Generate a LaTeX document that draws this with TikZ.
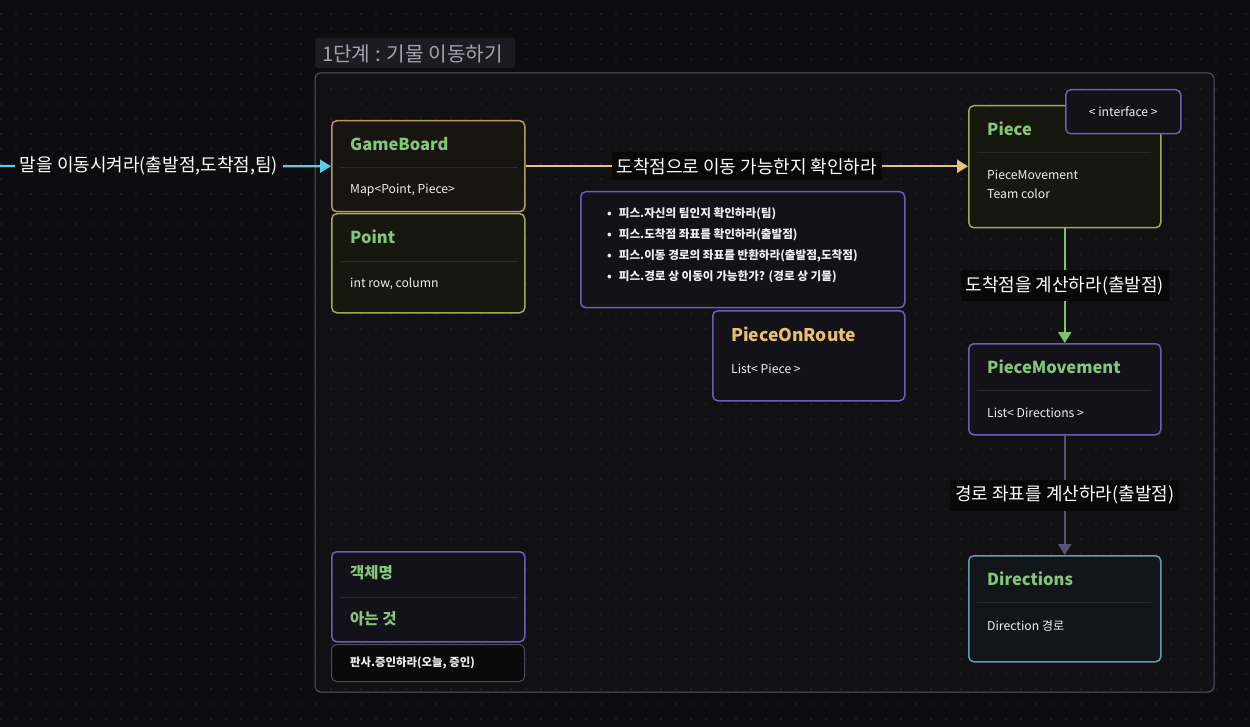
\documentclass[tikz,border=0pt]{standalone}
\usepackage{fontspec}
\setmainfont{Noto Sans CJK KR}
\usetikzlibrary{arrows.meta}
\definecolor{bg}{HTML}{0D0D0F}
\definecolor{dotc}{HTML}{2A2A30}
\definecolor{framec}{HTML}{55566A}
\definecolor{framefill}{HTML}{111114}
\definecolor{tabfill}{HTML}{1B1B21}
\definecolor{tabtext}{HTML}{A2A2B0}
\definecolor{goldb}{HTML}{B39B62}
\definecolor{oliveb}{HTML}{A3A85A}
\definecolor{purpb}{HTML}{6B5FB5}
\definecolor{tealb}{HTML}{5A9FAE}
\definecolor{greyb}{HTML}{4A4A5C}
\definecolor{grn}{HTML}{84C77B}
\definecolor{goldt}{HTML}{E8C170}
\definecolor{goldarr}{HTML}{E9C275}
\definecolor{grnarr}{HTML}{7DC36F}
\definecolor{grayarr}{HTML}{55566E}
\definecolor{cyanarr}{HTML}{5CCBEB}
\definecolor{fillgold}{HTML}{17150F}
\definecolor{fillolive}{HTML}{16170F}
\definecolor{fillpurp}{HTML}{131219}
\definecolor{fillteal}{HTML}{121619}
\definecolor{filldark}{HTML}{0A0A0B}
\definecolor{sepc}{HTML}{2A2A2E}
\definecolor{lblfill}{HTML}{080808}
\definecolor{bodyt}{HTML}{EFEFEF}
\begin{document}
\begin{tikzpicture}[x=1pt,y=-1pt,
  box/.style={draw, line width=1.5pt, rounded corners=5pt, anchor=north west, inner sep=0pt},
  ttl/.style={anchor=west, inner sep=0pt, text=grn, font=\bfseries\fontsize{16.5}{18}\selectfont},
  body/.style={anchor=west, inner sep=0pt, text=bodyt, font=\fontsize{12.2}{14}\selectfont},
  bul/.style={anchor=west, inner sep=0pt, text=bodyt, font=\bfseries\fontsize{11.6}{13}\selectfont},
  sepl/.style={draw=sepc, line width=1pt},
  elbl/.style={fill=lblfill, text=white, inner xsep=5pt, inner ysep=6pt, font=\fontsize{18}{20}\selectfont},
  arr/.style={line width=2.2pt, -{Triangle[length=11pt,width=13pt]}}
]
\useasboundingbox (0,0) rectangle (1250,727);
\fill[bg] (0,0) rectangle (1250,727);
% frame
\draw[draw=framec, fill=framefill, line width=1pt, rounded corners=6pt] (315,73) rectangle (1214,692);
% dots
\foreach \x in {1,16,...,1250} {
  \foreach \y in {14,29,...,727} {
    \fill[dotc] (\x,\y) circle (0.9);
  }
}
% tab
\fill[tabfill, rounded corners=3pt] (315,38) rectangle (515,68);
\node[anchor=west, inner sep=0pt, text=tabtext, font=\fontsize{20.2}{22}\selectfont] (tab) at (322,54) {1단계 : 기물 이동하기};

% GameBoard
\node[box, draw=goldb, fill=fillgold, minimum width=193pt, minimum height=91pt] (gb) at (331,120) {};
\node[ttl] (gbT) at (350,144) {GameBoard};
\draw[sepl] (340,168) -- (518,168);
\node[body] (gbB) at (350,190) {Map<Point, Piece>};

% Point
\node[box, draw=oliveb, fill=fillolive, minimum width=193pt, minimum height=99pt] (pt) at (331,213) {};
\node[ttl] (ptT) at (350,237) {Point};
\draw[sepl] (340,262) -- (518,262);
\node[body] (ptB) at (350,284) {int row, column};

% bullet box
\node[box, draw=purpb, fill=fillpurp, minimum width=324pt, minimum height=116pt] (bb) at (580,191) {};
\node[bul] (b1) at (607,214) {•\hspace{7pt}피스.자신의 팀인지 확인하라(팀)};
\node[bul] (b2) at (607,235) {•\hspace{7pt}피스.도착점 좌표를 확인하라(출발점)};
\node[bul] (b3) at (607,256) {•\hspace{7pt}피스.이동 경로의 좌표를 반환하라(출발점,도착점)};
\node[bul] (b4) at (607,277) {•\hspace{7pt}피스.경로 상 이동이 가능한가? (경로 상 기물)};

% PieceOnRoute
\node[box, draw=purpb, fill=fillpurp, minimum width=192pt, minimum height=90pt] (por) at (712,310) {};
\node[ttl, text=goldt, font=\bfseries\fontsize{17.5}{19}\selectfont] (porT) at (731,334) {PieceOnRoute};
\node[body] (porB) at (731,369) {List< Piece >};

% Piece
\node[box, draw=oliveb, fill=fillolive, minimum width=192pt, minimum height=122pt] (pc) at (968,105) {};
\node[ttl] (pcT) at (987,129) {Piece};
\draw[sepl] (977,153) -- (1151,153);
\node[body] (pcB1) at (987,175) {PieceMovement};
\node[body] (pcB2) at (987,194) {Team color};

% interface
\node[box, draw=purpb, fill=fillpurp, minimum width=115pt, minimum height=44pt] (itf) at (1065,89) {};
\node[inner sep=0pt, text=bodyt, font=\fontsize{12.2}{14}\selectfont] (itfT) at (itf.center) {< interface >};

% PieceMovement
\node[box, draw=purpb, fill=fillpurp, minimum width=192pt, minimum height=91pt] (pm) at (968,343) {};
\node[ttl] (pmT) at (987,367) {PieceMovement};
\draw[sepl] (977,390) -- (1151,390);
\node[body] (pmB) at (987,413) {List< Directions >};

% Directions
\node[box, draw=tealb, fill=fillteal, minimum width=192pt, minimum height=106pt] (dr) at (968,555) {};
\node[ttl] (drT) at (987,579) {Directions};
\draw[sepl] (977,602) -- (1151,602);
\node[body] (drB) at (987,626) {Direction 경로};

% legend
\node[box, draw=purpb, fill=fillpurp, minimum width=193pt, minimum height=90pt] (lg) at (331,551) {};
\node[ttl, font=\bfseries\fontsize{15.5}{17}\selectfont] (lgT) at (350,573) {객체명};
\draw[sepl] (340,597) -- (518,597);
\node[ttl, font=\bfseries\fontsize{15.5}{17}\selectfont] (lgB) at (350,619) {아는 것};
\node[box, draw=greyb, fill=filldark, line width=1pt, minimum width=193pt, minimum height=37pt] (lg2) at (331,644) {};
\node[bul, font=\bfseries\fontsize{11.4}{13}\selectfont] (lg2T) at (350,663) {판사.증인하라(오늘, 증인)};

% connectors
\coordinate (src) at (-10,166);
\draw[arr, draw=cyanarr, fill=cyanarr] (src) -- node[elbl, fill=bg, inner xsep=5pt, pos=0.466] {말을 이동시켜라(출발점,도착점,팀)} (gb.west);
\draw[arr, draw=goldarr, fill=goldarr] (gb.east) -- node[elbl, pos=0.5] {도착점으로 이동 가능한지 확인하라} (pc.west |- gb.east);
\draw[arr, draw=grnarr, fill=grnarr] (pc.south) -- node[elbl] {도착점을 계산하라(출발점)} (pm.north);
\draw[arr, draw=grayarr, fill=grayarr] (pm.south) -- node[elbl] {경로 좌표를 계산하라(출발점)} (dr.north);
\end{tikzpicture}
\end{document}
